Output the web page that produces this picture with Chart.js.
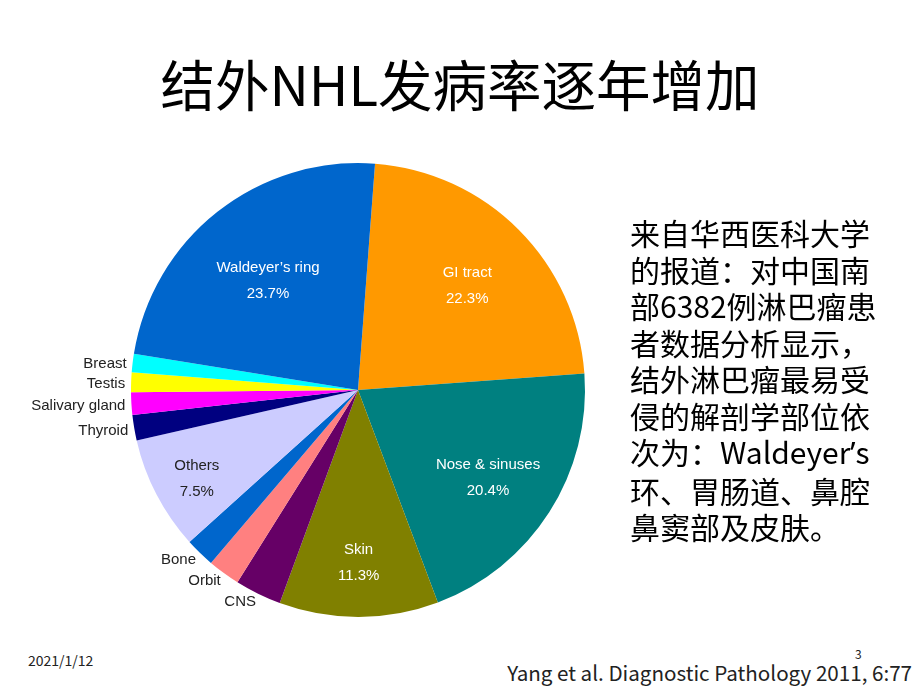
<!DOCTYPE html>
<html>
<head>
<meta charset="utf-8">
<script src="https://cdn.jsdelivr.net/npm/chart.js@4.4.0/dist/chart.umd.min.js"></script>
<style>
    body { margin: 0; background: #fff; }
    #pagina { position: relative; width: 920px; height: 690px; overflow: hidden; font-family: "Noto Sans CJK SC", "Noto Sans", sans-serif; color: #000; }
    #titulo { position: absolute; left: 0; top: 53px; width: 920px; text-align: center; font-size: 54.5px; line-height: 60px; }
    #grafico { position: absolute; left: 0; top: 140px; width: 716px; height: 500px; }
    #texto { position: absolute; left: 630px; top: 214px; font-size: 30px; line-height: 36.5px; white-space: nowrap; }
    .apos { font-family: "Noto Sans", sans-serif; }
    #data { position: absolute; left: 28px; top: 650px; font-size: 14px; line-height: 20px; color: #222; }
    #numero { position: absolute; left: 855px; top: 646px; font-size: 12px; line-height: 16px; color: #222; }
    #fonte { position: absolute; right: 8px; top: 658px; font-size: 20.6px; line-height: 28px; color: #222; }
</style>
</head>
<body>
<div id="pagina">
    <div id="titulo">结外NHL发病率逐年增加</div>
    <canvas id="grafico" width="716" height="500"></canvas>
    <div id="texto">来自华西医科大学<br>的报道：对中国南<br>部6382例淋巴瘤患<br>者数据分析显示，<br>结外淋巴瘤最易受<br>侵的解剖学部位依<br>次为：Waldeyer<span class="apos">’</span>s<br>环、胃肠道、鼻腔<br>鼻窦部及皮肤。</div>
    <div id="data">2021/1/12</div>
    <div id="numero">3</div>
    <div id="fonte">Yang et al. Diagnostic Pathology 2011, 6:77</div>
</div>
<script>
// sitios, em ordem horaria a partir do topo (tamanho das fatias)
const sitios = ['GI tract', 'Nose & sinuses', 'Skin', 'CNS', 'Orbit', 'Bone', 'Others', 'Thyroid', 'Salivary gland', 'Testis', 'Breast', 'Waldeyer’s ring']
const percentuais = [22.6, 20.4, 11.3, 3.3, 2.3, 2.1, 8.1, 1.8, 1.6, 1.4, 1.3, 23.6]
const rotulosPct = ['22.3%', '20.4%', '11.3%', '', '', '', '7.5%', '', '', '', '', '23.7%']
const cores = ['#FF9900', '#008080', '#808000', '#660066', '#FF8080', '#0066CC', '#CCCCFF', '#000080', '#FF00FF', '#FFFF00', '#00FFFF', '#0066CC']

// distancia do rotulo interno ao centro, fracao do raio
const fatorRaio = [0.68, 0.68, 0.74, 0, 0, 0, 0.8, 0, 0, 0, 0, 0.64]

const rotulosPizza = {
    id: 'rotulosPizza',
    afterDraw(chart) {
        const ctx = chart.ctx
        const arcs = chart.getDatasetMeta(0).data
        ctx.save()
        ctx.font = '15px "Liberation Sans", Arial, sans-serif'
        ctx.textBaseline = 'middle'
        arcs.forEach((arc, i) => {
            const { x, y, startAngle, endAngle, outerRadius } = arc.getProps(['x', 'y', 'startAngle', 'endAngle', 'outerRadius'], true)
            const meio = (startAngle + endAngle) / 2
            const cos = Math.cos(meio), sin = Math.sin(meio)
            if (rotulosPct[i]) {
                const r = outerRadius * fatorRaio[i]
                const px = x + cos * r, py = y + sin * r + 5
                ctx.textAlign = 'center'
                ctx.fillStyle = i === 6 ? '#222' : '#fff'
                ctx.fillText(sitios[i], px, py - 13)
                ctx.fillText(rotulosPct[i], px, py + 13)
            } else {
                const r = outerRadius + 7
                ctx.textAlign = 'right'
                ctx.fillStyle = '#222'
                ctx.fillText(sitios[i], x + cos * r + 1, y + sin * r + 2)
            }
        })
        ctx.restore()
    }
}

new Chart(document.getElementById('grafico').getContext('2d'), {
    type: 'pie',
    data: {
        labels: sitios,
        datasets: [{
            data: percentuais,
            backgroundColor: cores,
            borderWidth: 0,
            hoverOffset: 0
        }]
    },
    options: {
        responsive: false,
        animation: false,
        rotation: 4.3,
        layout: { padding: 23 },
        plugins: {
            legend: { display: false },
            tooltip: { enabled: false }
        }
    },
    plugins: [rotulosPizza]
})
</script>
</body>
</html>
